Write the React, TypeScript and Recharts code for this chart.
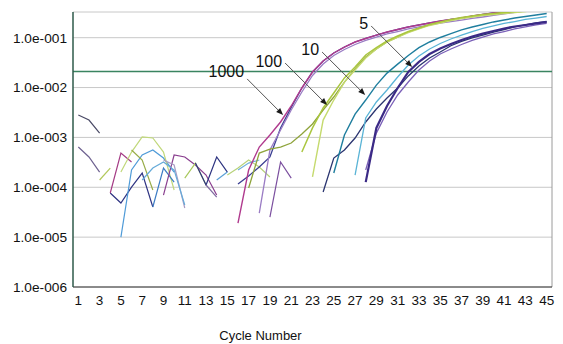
import { LineChart, Line, XAxis, YAxis, CartesianGrid, ReferenceLine } from 'recharts';

const FONT = '"Liberation Sans", Arial, sans-serif';

const cycleTicks = [1, 3, 5, 7, 9, 11, 13, 15, 17, 19, 21, 23, 25, 27, 29, 31, 33, 35, 37, 39, 41, 43, 45];
const decadeTicks = [1e-6, 1e-5, 1e-4, 1e-3, 1e-2, 1e-1];
const yTop = 0.3276;
const threshold = 0.021;

// amplification curves (fluorescence per cycle, from the first cycle that shows)
const navy1000 = [1.16e-4, 1.69e-4, 2.55e-4, 4.05e-4, 1.55e-3, 4.0e-3, 9.8e-3, 2.05e-2, 3.4e-2, 4.93e-2, 6.5e-2, 8.2e-2, 9.64e-2, 0.113, 0.13, 0.146, 0.164, 0.18, 0.197, 0.216, 0.232, 0.248, 0.272, 0.292, 0.313, 0.336, 0.36, 0.38, 0.4, 0.42];
const violet1000 = [3.04e-5, 5.58e-4, 1.41e-3, 3.55e-3, 8.15e-3, 1.75e-2, 2.97e-2, 4.4e-2, 5.8e-2, 7.31e-2, 8.79e-2, 0.103, 0.119, 0.133, 0.15, 0.164, 0.18, 0.197, 0.211, 0.226, 0.243, 0.26, 0.279, 0.299, 0.321, 0.344, 0.36, 0.38];
const magenta1000 = [1.92e-5, 2.22e-4, 6.41e-4, 1.12e-3, 2.04e-3, 4.27e-3, 9.8e-3, 2.05e-2, 3.4e-2, 4.93e-2, 6.5e-2, 8.2e-2, 9.64e-2, 0.113, 0.13, 0.146, 0.164, 0.18, 0.197, 0.216, 0.232, 0.248, 0.272, 0.292, 0.313, 0.336, 0.36, 0.38, 0.4, 0.42];
const olive100 = [9.66e-5, 4.86e-4, 5.85e-4, 6.41e-4, 7.73e-4, 1.17e-3, 1.86e-3, 3.55e-3, 6.46e-3, 1.29e-2, 2.36e-2, 4.1e-2, 5.93e-2, 8.2e-2, 0.103, 0.13, 0.153, 0.18, 0.202, 0.226, 0.248, 0.266, 0.285, 0.299, 0.313, 0.328, 0.344, 0.36, 0.38];
const lime100 = [5.09e-4, 1.55e-3, 3.89e-3, 7.78e-3, 1.56e-2, 2.58e-2, 4.5e-2, 6.35e-2, 8.59e-2, 0.108, 0.133, 0.157, 0.184, 0.207, 0.232, 0.254, 0.272, 0.292, 0.305, 0.321, 0.336, 0.35, 0.37, 0.39];
const pale100 = [1.61e-4, 2.23e-3, 5.62e-3, 1.29e-2, 2.25e-2, 3.92e-2, 5.93e-2, 8.2e-2, 0.103, 0.127, 0.15, 0.176, 0.197, 0.22, 0.243, 0.26, 0.279, 0.292, 0.305, 0.321, 0.336, 0.35, 0.37];
const teal10 = [1.93e-4, 1.12e-3, 2.94e-3, 5.62e-3, 1.12e-2, 1.95e-2, 2.95e-2, 4.4e-2, 6.3e-2, 8.2e-2, 0.101, 0.121, 0.143, 0.164, 0.184, 0.207, 0.226, 0.248, 0.266, 0.285, 0.305];
const sky10 = [1.76e-4, 2.45e-3, 5.13e-3, 8.93e-3, 1.63e-2, 2.83e-2, 4.3e-2, 5.93e-2, 7.66e-2, 9.42e-2, 0.113, 0.133, 0.153, 0.172, 0.193, 0.211, 0.232, 0.248, 0.266];
const navy5 = [8.04e-5, 3.86e-4, 5.58e-4, 9.73e-4, 2.04e-3, 3.72e-3, 6.17e-3, 9.8e-3, 1.71e-2, 2.7e-2, 3.92e-2, 5.16e-2, 6.9e-2, 8.4e-2, 9.9e-2, 0.113, 0.13, 0.146, 0.164, 0.18, 0.197, 0.211];
const purple5 = [2.22e-4, 1.22e-3, 3.24e-3, 7.1e-3, 1.29e-2, 2.25e-2, 3.4e-2, 4.71e-2, 5.93e-2, 7.31e-2, 8.79e-2, 0.103, 0.119, 0.133, 0.15, 0.164, 0.18, 0.193];
const indigo5 = [1.27e-4, 1.55e-3, 4.27e-3, 9.8e-3, 2.05e-2, 3.26e-2, 4.71e-2, 6.07e-2, 7.48e-2, 9.0e-2, 0.106, 0.121, 0.136, 0.153, 0.168, 0.18, 0.193, 0.207];

const curves = [
  { start: 16, values: navy1000, color: '#3a3f92', width: 1.3 },
  { start: 18, values: violet1000, color: '#9a7cc4', width: 1.3 },
  { start: 16, values: magenta1000, color: '#b03a8e', width: 1.4 },
  { start: 17, values: olive100, color: '#8fa43c', width: 1.3 },
  { start: 23, values: pale100, color: '#c5da6e', width: 1.4 },
  { start: 22, values: lime100, color: '#aac63f', width: 1.5 },
  { start: 24, values: navy5, color: '#2b3570', width: 1.3 },
  { start: 27, values: sky10, color: '#5ab4d6', width: 1.3 },
  { start: 25, values: teal10, color: '#1f7e9e', width: 1.4 },
  { start: 28, values: purple5, color: '#7b60b8', width: 1.3 },
  { start: 28, values: indigo5, color: '#3b2a86', width: 2.2 },
];

// background noise fragments before the rise
const noise = [
  { start: 1, values: [2.81e-3, 2.23e-3, 1.22e-3], color: '#4a4a66' },
  { start: 1, values: [6.41e-4, 4.05e-4, 2.02e-4], color: '#6e6290' },
  { start: 3, values: [1.4e-4, 2.43e-4], color: '#b2c85a' },
  { start: 4, values: [7.67e-5, 4.83e-5, 1.01e-4, 1.93e-4, 4.02e-5], color: '#2f3483' },
  { start: 4, values: [7.67e-5, 4.86e-4, 3.21e-4], color: '#a53c86' },
  { start: 5, values: [1.0e-5, 2.22e-4, 4.44e-4, 5.58e-4, 3.86e-4, 2.02e-4], color: '#4f9bd8' },
  { start: 5, values: [2.02e-4, 5.09e-4, 1.02e-3, 9.73e-4, 5.09e-4, 8.81e-5], color: '#c0d87a' },
  { start: 6, values: [5.58e-4, 3.52e-4, 8.81e-5], color: '#98ac48' },
  { start: 8, values: [4.02e-5, 2.43e-4, 1.27e-4], color: '#3c7cc4' },
  { start: 9, values: [6.98e-5, 4.44e-4, 4.05e-4, 2.8e-4, 1.76e-4, 6.98e-5], color: '#8a3f8f' },
  { start: 9, values: [3.52e-4, 2.8e-4, 3.84e-5], color: '#a99cc4' },
  { start: 7, values: [1.4e-4, 2.43e-4, 3.21e-4, 2.22e-4, 4.41e-5], color: '#66abd9' },
  { start: 11, values: [1.53e-4, 3.06e-4, 1.11e-4], color: '#a8c85c' },
  { start: 12, values: [3.06e-4, 1.11e-4, 4.05e-4, 2.02e-4], color: '#2d3380' },
  { start: 14, values: [1.4e-4, 2.02e-4], color: '#5aa0d6' },
  { start: 13, values: [1.11e-4, 6.37e-5], color: '#7f6aa0' },
  { start: 15, values: [1.76e-4, 2.43e-4, 3.52e-4, 2.55e-4, 1.61e-4], color: '#b7d27a' },
  { start: 16, values: [2.22e-4, 3.06e-4, 3.52e-4], color: '#6fb0dc' },
  { start: 19, values: [2.53e-5, 3.21e-4, 1.53e-4], color: '#7b4f9f' },
];

// dilution labels with their arrows (cycle, fluorescence)
const arrowLabels = ['1000', '100', '10', '5'];
const arrowFrom = [{ x: 16.86, y: 1.49e-2 }, { x: 20.43, y: 3.1e-2 }, { x: 23.9, y: 5.16e-2 }, { x: 28.51, y: 0.172 }];
const arrowTo = [{ x: 20.24, y: 2.81e-3 }, { x: 24.37, y: 4.47e-3 }, { x: 27.95, y: 7.1e-3 }, { x: 32.36, y: 2.58e-2 }];
const labelDy = [-2, 4, 3, 3];

const toPoints = (start: number, values: number[]) => values.map((v, i) => ({ cycle: start + i, v }));

const fmtDecade = (v: number) => `1.0e-${String(Math.round(-Math.log10(v))).padStart(3, '0')}`;

function Arrow({ x1, y1, x2, y2, text, dy }: any) {
  const a = Math.atan2(y2 - y1, x2 - x1);
  const bx = x2 - 7 * Math.cos(a);
  const by = y2 - 7 * Math.sin(a);
  const w = 2.8;
  const pts = `${x2},${y2} ${bx - w * Math.sin(a)},${by + w * Math.cos(a)} ${bx + w * Math.sin(a)},${by - w * Math.cos(a)}`;
  return (
    <g>
      <line x1={x1} y1={y1} x2={bx} y2={by} stroke="#555" strokeWidth={1} />
      <polygon points={pts} fill="#1a1a1a" />
      <text x={x1 - 3} y={y1 + dy} textAnchor="end" fontSize={16} fill="#111" fontFamily={FONT}>
        {text}
      </text>
    </g>
  );
}

export default function App() {
  return (
    <div style={{ position: 'absolute', left: 0, top: 0, background: '#fff' }}>
      <LineChart width={563} height={344} margin={{ top: 12, right: 11, bottom: 27, left: 0 }} style={{ fontFamily: FONT }}>
        <CartesianGrid vertical={false} stroke="#c8c8c8" />
        <XAxis
          type="number"
          dataKey="cycle"
          domain={[0.5, 45.5]}
          ticks={cycleTicks}
          interval={0}
          allowDataOverflow
          tickLine={false}
          tickSize={0}
          tickMargin={8}
          height={30}
          axisLine={{ stroke: '#333', strokeWidth: 1.2 }}
          tick={{ fontSize: 13.5, fill: '#111' }}
          label={{ value: 'Cycle Number', position: 'bottom', offset: 14, dx: -52, fontSize: 13, fill: '#111' }}
        />
        <YAxis
          scale="log"
          domain={[1e-6, yTop]}
          ticks={decadeTicks}
          allowDataOverflow
          width={73}
          tickLine={false}
          tickSize={0}
          tickMargin={6}
          tickFormatter={fmtDecade}
          axisLine={{ stroke: '#2e5a4a', strokeWidth: 1.5 }}
          tick={{ fontSize: 13.7, fill: '#111' }}
        />
        <ReferenceLine x={45.5} stroke="#9a9a9a" ifOverflow="visible" />
        <ReferenceLine y={threshold} stroke="#3a8460" strokeWidth={1.5} />
        {noise.map((s, i) => (
          <Line key={'n' + i} data={toPoints(s.start, s.values)} dataKey="v" stroke={s.color} strokeWidth={1.2} dot={false} isAnimationActive={false} type="linear" />
        ))}
        {curves.map((s, i) => (
          <Line key={'c' + i} data={toPoints(s.start, s.values)} dataKey="v" stroke={s.color} strokeWidth={s.width} dot={false} isAnimationActive={false} type="linear" />
        ))}
        {arrowLabels.map((t, i) => (
          <ReferenceLine
            key={'a' + i}
            segment={[arrowFrom[i], arrowTo[i]]}
            ifOverflow="visible"
            shape={(p: any) => <Arrow {...p} text={t} dy={labelDy[i]} />}
          />
        ))}
      </LineChart>
    </div>
  );
}
